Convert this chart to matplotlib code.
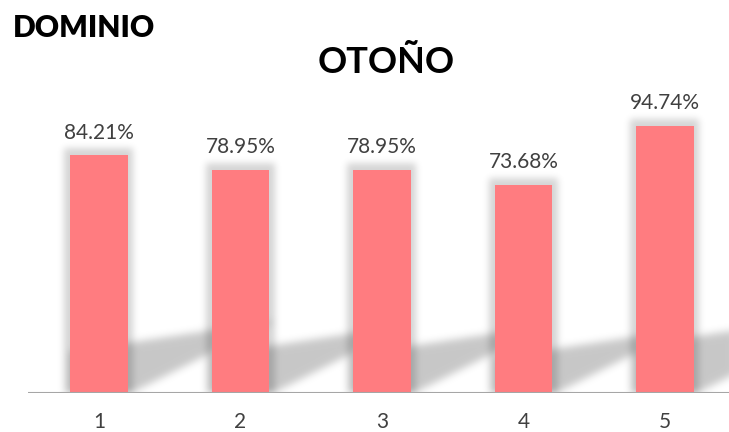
import numpy as np
import matplotlib.pyplot as plt

categories = ['1', '2', '3', '4', '5']
values = [84.21, 78.95, 78.95, 73.68, 94.74]

bar_color = '#FF7C80'
text_color = '#404040'
plt.rcParams['font.family'] = ['Lato', 'DejaVu Sans']

W, H = 729, 432
fig = plt.figure(figsize=(W / 100, H / 100), dpi=100)
ax = fig.add_axes([28.25 / W, 39 / H, 707.5 / W, 282.3 / H])
ax.set_xlim(-0.5, len(categories) - 0.5)
ax.set_ylim(0, 100)

x = np.arange(len(categories))
bw = 0.403

# soft glow + slanted floor shadow, built as a blurred image in pixel space
bb = ax.get_window_extent()
nx, ny = int(round(bb.width)), int(round(bb.height))
px = np.arange(nx) + 0.5
py = np.arange(ny) + 0.5
PX, PY = np.meshgrid(px, py)

def blur(img, sigma):
    r = int(3 * sigma)
    k = np.exp(-0.5 * (np.arange(-r, r + 1) / sigma) ** 2)
    k /= k.sum()
    img = np.apply_along_axis(lambda m: np.convolve(m, k, mode='same'), 0, img)
    img = np.apply_along_axis(lambda m: np.convolve(m, k, mode='same'), 1, img)
    return img

glow = np.zeros((ny, nx))
shadow = np.zeros((ny, nx))
for xi, v in zip(x, values):
    (xl, _), (xr, top) = ax.transData.transform([(xi - bw / 2, 0), (xi + bw / 2, v)])
    xl -= bb.x0
    xr -= bb.x0
    top -= bb.y0
    glow[(PX > xl - 6) & (PX < xr + 6) & (PY < top + 6)] = 1
    h = top
    dx = PX - xr
    low = 0.5 * dx - 2
    high = 0.21 * h + 0.15 * dx
    shadow[(PX > xl) & (PY > low) & (PY < high)] = 1

glow = blur(glow, 3.5) * 0.17
shadow = blur(shadow, 4.0) * 0.22
alpha = 1 - (1 - glow) * (1 - shadow)
rgba = np.zeros((ny, nx, 4))
rgba[..., 3] = np.clip(alpha, 0, 1)
ax.imshow(rgba, extent=(*ax.get_xlim(), *ax.get_ylim()), origin='lower',
          aspect='auto', interpolation='bilinear', zorder=1)

ax.bar(x, values, width=bw, color=bar_color, zorder=3)

for xi, v in zip(x, values):
    ax.annotate(f'{v:.2f}%', (xi, v), xytext=(0, 12), textcoords='offset points',
                ha='center', va='baseline', fontsize=15, color=text_color)

ax.axhline(0, color='#A6A6A6', lw=1.5, zorder=4)
ax.set_xticks(x, categories)
ax.tick_params(axis='x', length=0, pad=14, labelsize=15, labelcolor=text_color)
ax.set_yticks([])
for s in ax.spines.values():
    s.set_visible(False)

fig.text(386 / W, 1 - 73 / H, 'OTOÑO', ha='center', va='baseline',
         fontsize=26, fontweight='bold', color='black')
fig.text(13 / W, 1 - 37 / H, 'DOMINIO', ha='left', va='baseline',
         fontsize=21.5, fontweight='heavy', color='black')

fig.savefig('out.png', dpi=100)
